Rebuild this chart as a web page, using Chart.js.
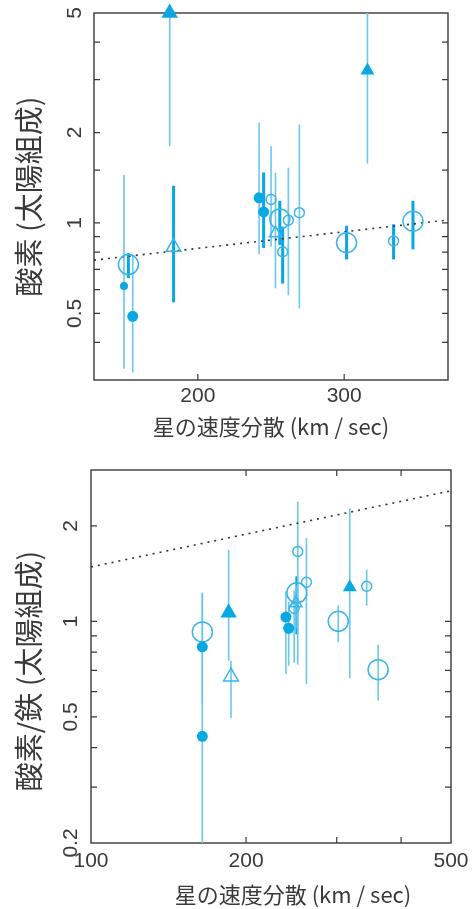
<!DOCTYPE html>
<html lang="ja">
<head>
<meta charset="UTF-8">
<title>酸素と星の速度分散</title>
<script src="https://cdn.jsdelivr.net/npm/chart.js"></script>
<style>
  html, body { margin: 0; padding: 0; background: #fff; }
  canvas { display: block; }
</style>
</head>
<body>
<canvas id="grafico-oxigenio" width="476" height="450"></canvas>
<canvas id="grafico-razao" width="476" height="459"></canvas>

<script>
// ---- painel de cima: oxigenio vs dispersao de velocidade ----
var oxSigma  = [163, 165, 167, 185, 187, 237, 240, 245, 248, 251, 253, 257, 265, 320, 302, 344, 363];
var oxValue  = [0.617, 0.727, 0.489, 5.0, 0.831, 1.212, 1.088, 1.198, 0.924, 1.031, 0.802, 1.021, 1.082, 3.22, 0.859, 0.871, 1.013];
var oxLow    = [0.327, 0.655, 0.318, 1.80, 0.544, 0.788, 0.825, 0.833, 0.606, 0.844, 0.628, 0.574, 0.519, 1.575, 0.756, 0.756, 0.817];
var oxHigh   = [1.447, 0.794, 0.780, 8.0, 1.330, 2.160, 1.473, 1.800, 1.470, 1.185, 0.972, 1.527, 2.130, 10.0, 0.979, 0.990, 1.185];
var oxSymbol = ['dotSmall', 'ring', 'dot', 'tri', 'triOpen', 'dot', 'dot', 'ringSmall', 'triOpenSmall', 'ring', 'ringSmall', 'ringSmall', 'ringSmall', 'triSmall', 'ring', 'ringSmall', 'ring'];
var oxBar    = ['thin', 'thick', 'thin', 'thin', 'thick', 'thin', 'thick', 'thin', 'thin', 'thick', 'thick', 'thin', 'thin', 'thin', 'thick', 'thick', 'thick'];
var oxFitSigma = [150, 400];
var oxFitValue = [0.752, 1.023];
var oxXLabels = [200, 300];
var oxXMarks  = [200, 300];
var oxYLabels = [0.5, 1, 2, 5];
var oxYMarks  = [0.4, 0.5, 0.6, 0.7, 0.8, 0.9, 1, 1.5, 2, 3, 4];

// ---- painel de baixo: oxigenio/ferro ----
var feSigma  = [164.5, 164.5, 164.5, 185, 187, 239, 242, 251, 252, 250, 248, 262, 302, 318, 343, 361];
var feValue  = [0.926, 0.831, 0.434, 1.065, 0.669, 1.031, 0.951, 1.23, 1.66, 1.14, 1.10, 1.328, 1.0, 1.281, 1.29, 0.704];
var feLow    = [0.80, 0.55, 0.15, 0.75, 0.496, 0.682, 0.724, 0.91, 0.73, 0.95, 0.74, 0.635, 0.86, 0.661, 1.12, 0.563];
var feHigh   = [1.23, 1.23, 0.83, 1.68, 0.75, 1.245, 1.15, 1.387, 2.38, 1.30, 1.25, 1.83, 1.12, 2.27, 1.455, 0.843];
var feSymbol = ['ring', 'dot', 'dot', 'tri', 'triOpen', 'dot', 'dot', 'ring', 'ringSmall', 'triOpenSmall', 'ringSmall', 'ringSmall', 'ring', 'triSmall', 'ringSmall', 'ring'];
var feBar    = ['thin', 'thin', 'thin', 'thin', 'thin', 'thin', 'thin', 'thick', 'thin', 'thin', 'thin', 'thin', 'thin', 'thin', 'thin', 'thin'];
var feFitSigma = [100, 500];
var feFitValue = [1.484, 2.58];
var feXLabels = [100, 200, 500];
var feXMarks  = [200, 300, 400];
var feYLabels = [0.2, 0.5, 1, 2];
var feYMarks  = [0.3, 0.4, 0.5, 0.6, 0.7, 0.8, 0.9, 1, 2];

// ---- estilo ----
var ciano = '#0aa8e2';
var cianoClaro = '#6ac8ee';
var anel = '#3cb5e7';
var cinza = '#3a3a3a';
var fonteNum = '"Liberation Sans", Arial, sans-serif';
var fonteJp = '"Noto Sans CJK JP", sans-serif';

var simbolos = {
    dot:          { shape: 'circle',   r: 5.5, cheio: true },
    dotSmall:     { shape: 'circle',   r: 4,   cheio: true },
    ring:         { shape: 'circle',   r: 10,  cheio: false },
    ringSmall:    { shape: 'circle',   r: 5,   cheio: false },
    tri:          { shape: 'triangle', r: 9.5, cheio: true },
    triSmall:     { shape: 'triangle', r: 8,   cheio: true },
    triOpen:      { shape: 'triangle', r: 8.5, cheio: false },
    triOpenSmall: { shape: 'triangle', r: 7,   cheio: false }
};

function montarDatasets(sig, val, sym, fitX, fitY) {
    var lista = [];
    Object.keys(simbolos).forEach(function (tipo) {
        var st = simbolos[tipo];
        var pts = [];
        for (var i = 0; i < sig.length; i++) {
            if (sym[i] == tipo) pts.push({ x: sig[i], y: val[i] });
        }
        if (!pts.length) return;
        lista.push({
            label: tipo,
            data: pts,
            pointStyle: st.shape,
            pointRadius: st.r,
            backgroundColor: st.cheio ? ciano : 'rgba(0,0,0,0)',
            borderColor: st.cheio ? ciano : anel,
            borderWidth: st.cheio ? 0 : 1.5,
            clip: false
        });
    });
    // linha pontilhada (ajuste) - por ultimo para ficar embaixo
    lista.push({
        label: 'ajuste',
        data: fitX.map(function (x, i) { return { x: x, y: fitY[i] }; }),
        showLine: true,
        borderColor: '#333',
        borderWidth: 1.6,
        borderDash: [2, 5],
        pointRadius: 0
    });
    return lista;
}

// moldura + tracinhos para dentro
var moldura = {
    id: 'moldura',
    beforeDatasetsDraw: function (chart, args, o) {
        var ctx = chart.ctx, a = chart.chartArea, x = chart.scales.x, y = chart.scales.y;
        ctx.save();
        ctx.strokeStyle = cinza;
        ctx.lineWidth = 1.4;
        ctx.strokeRect(a.left, a.top, a.right - a.left, a.bottom - a.top);
        ctx.lineWidth = 1.2;
        ctx.beginPath();
        o.yMarks.forEach(function (v) {
            var py = y.getPixelForValue(v);
            ctx.moveTo(a.left, py); ctx.lineTo(a.left + 6, py);
            ctx.moveTo(a.right, py); ctx.lineTo(a.right - 6, py);
        });
        o.xMarks.forEach(function (v) {
            var px = x.getPixelForValue(v);
            ctx.moveTo(px, a.bottom); ctx.lineTo(px, a.bottom - 6);
            if (o.topMarks) { ctx.moveTo(px, a.top); ctx.lineTo(px, a.top + 6); }
        });
        ctx.stroke();
        ctx.restore();
    },
    afterDraw: function (chart, args, o) {
        // rotulos do eixo y girados
        var ctx = chart.ctx, y = chart.scales.y;
        ctx.save();
        ctx.fillStyle = cinza;
        ctx.font = '21px ' + fonteNum;
        ctx.textAlign = 'center';
        ctx.textBaseline = 'middle';
        o.yLabels.forEach(function (v) {
            ctx.save();
            ctx.translate(o.labelX, y.getPixelForValue(v));
            ctx.rotate(-Math.PI / 2);
            ctx.fillText(String(v), 0, 0);
            ctx.restore();
        });
        ctx.restore();
    }
};

// barras de erro
var barrasErro = {
    id: 'barrasErro',
    beforeDatasetsDraw: function (chart, args, o) {
        var ctx = chart.ctx, a = chart.chartArea, x = chart.scales.x, y = chart.scales.y;
        ctx.save();
        ctx.beginPath();
        ctx.rect(a.left, a.top, a.right - a.left, a.bottom - a.top);
        ctx.clip();
        for (var i = 0; i < o.sigma.length; i++) {
            var px = x.getPixelForValue(o.sigma[i]);
            ctx.beginPath();
            ctx.lineWidth = o.bar[i] == 'thick' ? 3 : 1.6;
            ctx.strokeStyle = o.bar[i] == 'thick' ? ciano : cianoClaro;
            ctx.moveTo(px, y.getPixelForValue(o.low[i]));
            ctx.lineTo(px, y.getPixelForValue(o.high[i]));
            ctx.stroke();
        }
        ctx.restore();
    }
};

function desenhar(id, c) {
    return new Chart(document.getElementById(id), {
        type: 'scatter',
        data: { datasets: montarDatasets(c.sigma, c.value, c.symbol, c.fitX, c.fitY) },
        plugins: [moldura, barrasErro],
        options: {
            responsive: false,
            animation: false,
            events: [],
            layout: { padding: c.padding },
            plugins: {
                legend: { display: false },
                tooltip: { enabled: false },
                moldura: { yMarks: c.yMarks, xMarks: c.xMarks, yLabels: c.yLabels, labelX: c.labelX, topMarks: c.topMarks },
                barrasErro: { sigma: c.sigma, low: c.low, high: c.high, bar: c.bar }
            },
            scales: {
                x: {
                    type: 'logarithmic',
                    min: c.xMin, max: c.xMax,
                    grid: { display: false, drawTicks: false },
                    border: { display: false },
                    afterBuildTicks: function (s) { s.ticks = c.xLabels.map(function (v) { return { value: v }; }); },
                    afterFit: function (s) { s.height = c.xHeight; },
                    ticks: {
                        autoSkip: false, maxRotation: 0, minRotation: 0,
                        padding: c.xTickPad, color: cinza,
                        font: { family: fonteNum, size: 21 },
                        callback: function (v) { return String(v); }
                    },
                    title: {
                        display: true, text: c.xTitle, color: cinza,
                        font: { family: fonteJp, size: 22 },
                        padding: { top: 0, bottom: c.xTitlePad }
                    }
                },
                y: {
                    type: 'logarithmic',
                    min: c.yMin, max: c.yMax,
                    grid: { display: false, drawTicks: false },
                    border: { display: false },
                    ticks: { display: false },
                    afterFit: function (s) { s.width = c.yWidth; },
                    title: {
                        display: true, text: c.yTitle, color: cinza,
                        font: { family: fonteJp, size: 29 },
                        padding: { top: 12, bottom: 0 }
                    }
                }
            }
        }
    });
}

desenhar('grafico-oxigenio', {
    sigma: oxSigma, value: oxValue, low: oxLow, high: oxHigh, symbol: oxSymbol, bar: oxBar,
    fitX: oxFitSigma, fitY: oxFitValue,
    xLabels: oxXLabels, xMarks: oxXMarks, yLabels: oxYLabels, yMarks: oxYMarks, topMarks: false,
    xMin: 150, xMax: 400, yMin: 0.3, yMax: 5,
    padding: { left: 0, top: 13, right: 28, bottom: 0 },
    xHeight: 70, yWidth: 94, xTickPad: 4, xTitlePad: 10, labelX: 75,
    xTitle: '星の速度分散 (km / sec)',
    yTitle: '酸素 (太陽組成)'
});

desenhar('grafico-razao', {
    sigma: feSigma, value: feValue, low: feLow, high: feHigh, symbol: feSymbol, bar: feBar,
    fitX: feFitSigma, fitY: feFitValue,
    xLabels: feXLabels, xMarks: feXMarks, yLabels: feYLabels, yMarks: feYMarks, topMarks: true,
    xMin: 100, xMax: 500, yMin: 0.2, yMax: 3,
    padding: { left: 0, top: 20, right: 25, bottom: 0 },
    xHeight: 66, yWidth: 91, xTickPad: 6, xTitlePad: 1, labelX: 71,
    xTitle: '\u3000\u3000星の速度分散 (km / sec)',
    yTitle: '酸素/鉄 (太陽組成)\u3000'
});
</script>
</body>
</html>
